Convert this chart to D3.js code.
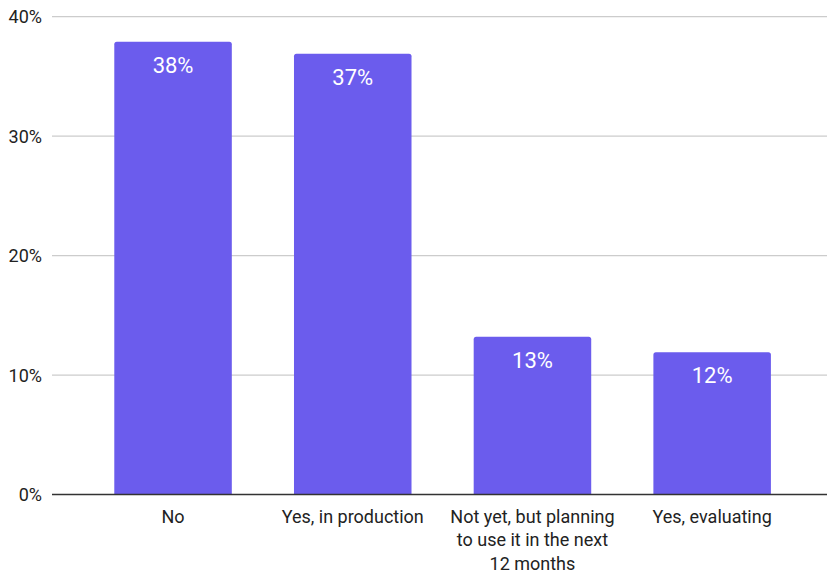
<!DOCTYPE html>
<html>
<head>
<meta charset="utf-8">
<script src="https://cdn.jsdelivr.net/npm/d3@7"></script>
<style>
  html, body { margin: 0; padding: 0; background: #fff; }
  svg { display: block; font-family: Roboto, "Noto Sans", sans-serif; }
</style>
</head>
<body>
<svg id="chart" width="827" height="576"></svg>
<script>
const categories = ["No", "Yes, in production", "Not yet, but planning to use it in the next 12 months", "Yes, evaluating"];
const values = [37.9, 36.9, 13.2, 11.9];
const valueLabels = ["38%", "37%", "13%", "12%"];
const yTicks = [0, 10, 20, 30, 40];

const svg = d3.select("#chart");
const gridX0 = 52, gridX1 = 827;

const y = d3.scaleLinear().domain([0, 40]).range([494.5, 16.7]);
const x = d3.scaleBand().domain(categories).range([83.2, 802]).paddingInner(0.346).paddingOuter(0.173);

// gridlines
svg.append("g").selectAll("line").data(yTicks.filter(d => d > 0)).join("line")
  .attr("x1", gridX0).attr("x2", gridX1)
  .attr("y1", d => y(d)).attr("y2", d => y(d))
  .attr("stroke", "#cccccc").attr("stroke-width", 1.2);

// y tick labels
svg.append("g").selectAll("text").data(yTicks).join("text")
  .attr("x", 42).attr("y", d => y(d)).attr("dy", "0.36em")
  .attr("text-anchor", "end").attr("font-size", 18).attr("fill", "#222")
  .text(d => d + "%");

// bars with rounded top corners
const r = 2.5;
svg.append("g").selectAll("path").data(categories).join("path")
  .attr("fill", "#6b5ced")
  .attr("d", (c, i) => {
    const x0 = x(c), w = x.bandwidth(), yt = y(values[i]), yb = y(0);
    return `M${x0},${yb}V${yt + r}Q${x0},${yt} ${x0 + r},${yt}H${x0 + w - r}Q${x0 + w},${yt} ${x0 + w},${yt + r}V${yb}Z`;
  });

// value labels
svg.append("g").selectAll("text").data(categories).join("text")
  .attr("x", c => x(c) + x.bandwidth() / 2)
  .attr("y", (c, i) => y(values[i]) + 31)
  .attr("text-anchor", "middle").attr("font-size", 22).attr("fill", "#ffffff")
  .text((c, i) => valueLabels[i]);

// baseline
svg.append("line").attr("x1", gridX0).attr("x2", gridX1)
  .attr("y1", y(0)).attr("y2", y(0))
  .attr("stroke", "#333").attr("stroke-width", 1.5);

// x labels with wrapping
const xl = svg.append("g").selectAll("text").data(categories).join("text")
  .attr("x", c => x(c) + x.bandwidth() / 2)
  .attr("y", 523)
  .attr("text-anchor", "middle").attr("font-size", 18).attr("fill", "#222");

xl.each(function(c) {
  const t = d3.select(this);
  const words = c.split(" ");
  let line = [];
  let lines = [];
  const tmp = t.append("tspan");
  words.forEach(w => {
    line.push(w);
    tmp.text(line.join(" "));
    if (tmp.node().getComputedTextLength() > 170 && line.length > 1) {
      line.pop();
      lines.push(line.join(" "));
      line = [w];
    }
  });
  lines.push(line.join(" "));
  tmp.remove();
  const cx = +t.attr("x");
  lines.forEach((l, i) => {
    t.append("tspan").attr("x", cx).attr("dy", i === 0 ? 0 : 23.3).text(l);
  });
});
</script>
</body>
</html>
